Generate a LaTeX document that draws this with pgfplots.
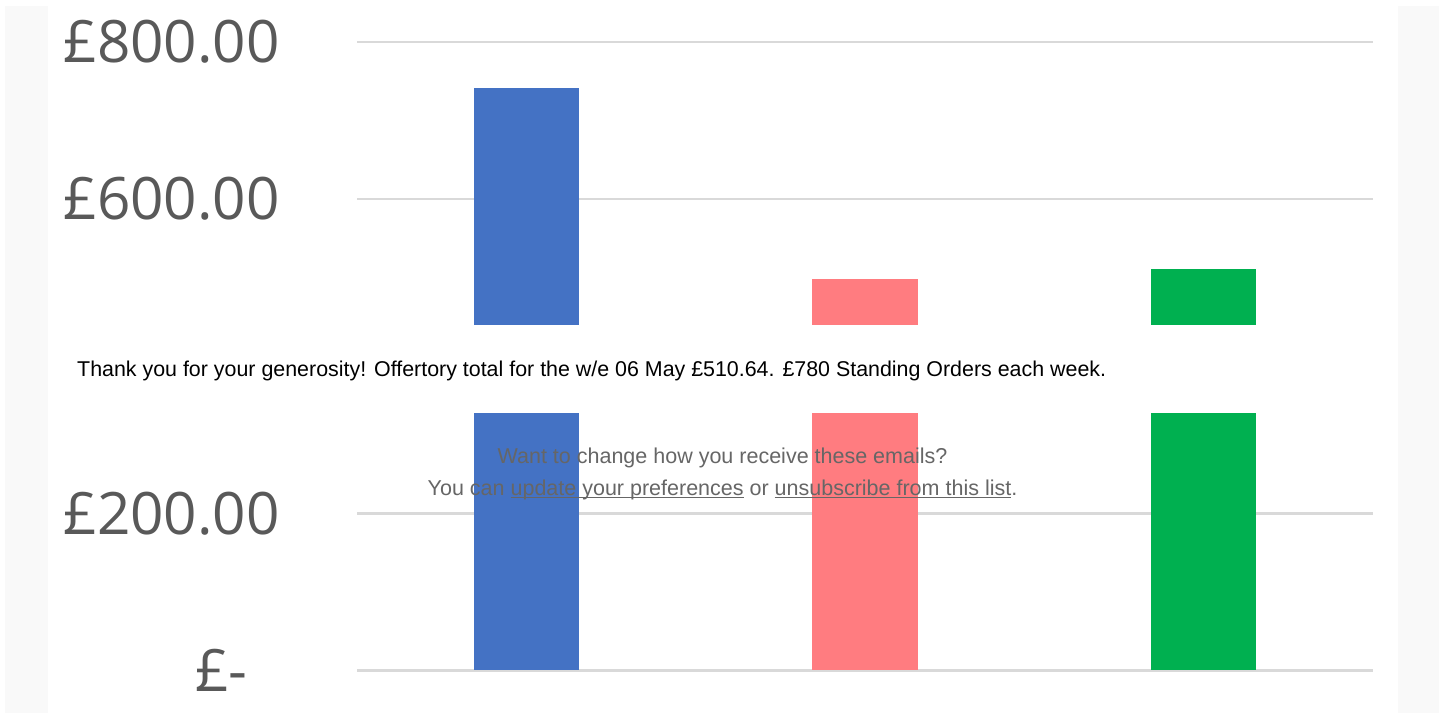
\documentclass[border=0pt]{standalone}
\usepackage{pgfplots}
\pgfplotsset{compat=1.18}
\usepackage{fontspec}
\setmainfont{Liberation Sans}
\newfontfamily\tickfont{Open Sans}
\definecolor{barblue}{HTML}{4472C4}
\definecolor{barpink}{HTML}{FF7C80}
\definecolor{bargreen}{HTML}{00B050}
\definecolor{gridgray}{HTML}{D9D9D9}
\definecolor{labelgray}{HTML}{595959}
\definecolor{panelgray}{HTML}{F9F9F9}
\definecolor{footgray}{HTML}{666666}
\newcommand\ul[1]{\setbox0\hbox{#1}\rlap{\color{footgray}\rule[-2.2bp]{\wd0}{1.3bp}}\box0\relax}
\begin{document}
\begin{tikzpicture}[x=1bp,y=1bp]
\fill[white, use as bounding box] (0,0) rectangle (1439,713);
\fill[panelgray] (5,0) rectangle (48,707);
\fill[panelgray] (1398,0) rectangle (1439,707);
\begin{axis}[at={(357bp,42.5bp)}, anchor=south west, scale only axis,
  width=1016bp, height=628.5bp,
  xmin=-0.5, xmax=2.5, ymin=0, ymax=800,
  xtick=\empty, ytick={0,200,400,600,800},
  yticklabels={£-\hspace*{32bp}, £200.00, {}, £600.00, £800.00},
  axis line style={draw=none}, major tick length=0pt,
  ymajorgrids, grid style={draw=gridgray, line width=2.7bp},
  yticklabel style={anchor=east, inner sep=0pt, xshift=-77bp,
    font=\tickfont\fontsize{58.5bp}{60bp}\selectfont, text=labelgray},
  clip=false]
\addplot[ybar, bar width=105.5bp, fill=barblue, draw=none] coordinates {(0,741.1)};
\addplot[ybar, bar width=105.5bp, fill=barpink, draw=none] coordinates {(1,498.0)};
\addplot[ybar, bar width=105.5bp, fill=bargreen, draw=none] coordinates {(2,510.64)};
\end{axis}
\fill[white] (48,300.3) rectangle (1398,388);
\node[anchor=base west, inner sep=0pt, font=\fontsize{21.4bp}{24bp}\selectfont] at (77,336.3)
  {Thank you for your generosity! Offertory total for the w/e 06 May £510.64. £780 Standing Orders each week.};
\node[anchor=base, inner sep=0pt, text=footgray, font=\fontsize{21.5bp}{24bp}\selectfont] at (722.5,249.7)
  {Want to change how you receive these emails?};
\node[anchor=base, inner sep=0pt, text=footgray, font=\fontsize{21.5bp}{24bp}\selectfont] at (722.5,217)
  {You can \ul{update your preferences} or \ul{unsubscribe from this list}.};
\end{tikzpicture}
\end{document}
